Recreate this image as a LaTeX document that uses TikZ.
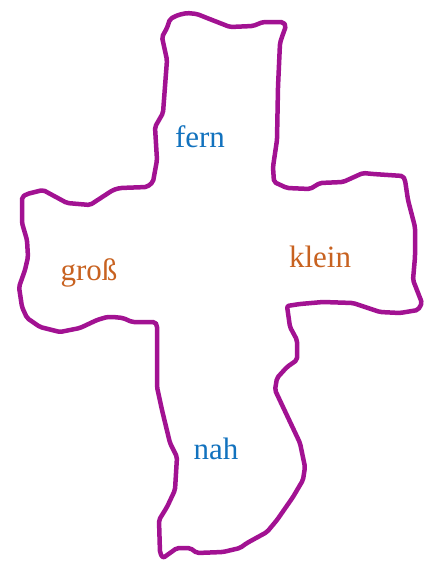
\documentclass[tikz,border=0pt]{standalone}
\usepackage{fontspec}
\setmainfont{Liberation Serif}
\definecolor{outlinepurple}{RGB}{162,18,146}
\definecolor{wordblue}{RGB}{18,114,190}
\definecolor{wordorange}{RGB}{200,98,32}
\tikzset{
  outline/.style={draw=outlinepurple, line width=4.5pt, line join=round, line cap=round, rounded corners=2pt},
  word/.style={anchor=base, font=\fontsize{31}{31}\selectfont, inner sep=0pt}
}
\begin{document}
\begin{tikzpicture}[x=1pt,y=-1pt]
\useasboundingbox (0,0) rectangle (425,563);
\draw[outline] (170,19) -- (178,15) -- (187,13) -- (197,14) -- (207,18) -- (230,27) -- (253,26) -- (263,22) -- (283,22) -- (286,26) -- (283,34) -- (280,43) -- (278,87) -- (277,140) -- (273,167) -- (274,182) -- (287,188) -- (310,189) -- (320,183) -- (343,182) -- (363,173) -- (373,174) -- (403,176) -- (405,180) -- (408,200) -- (415,227) -- (415,257) -- (413,280) -- (422,303) -- (418,310) -- (400,313) -- (380,312) -- (353,303) -- (323,302) -- (300,304) -- (287,306) -- (290,327) -- (297,340) -- (297,360) -- (287,367) -- (277,378) -- (275,390) -- (283,407) -- (300,443) -- (305,467) -- (303,480) -- (293,497) -- (277,520) -- (267,532) -- (247,543) -- (240,548) -- (223,552) -- (197,553) -- (190,548) -- (177,548) -- (163,558) -- (160,553) -- (159,520) -- (167,507) -- (175,490) -- (177,457) -- (170,443) -- (162,410) -- (157,387) -- (157,325) -- (155,322) -- (132,322) -- (123,318) -- (113,317) -- (107,317) -- (97,320) -- (80,328) -- (60,332) -- (40,327) -- (27,318) -- (22,307) -- (19,287) -- (25,270) -- (28,257) -- (27,240) -- (22,223) -- (22,197) -- (27,194) -- (43,190) -- (67,203) -- (90,205) -- (113,190) -- (120,188) -- (147,187) -- (153,182) -- (157,160) -- (155,127) -- (163,113) -- (167,60) -- (162,37) -- (167,28) -- cycle;
\node[word, text=wordblue] (fern) at (200,147) {fern};
\node[word, text=wordorange] (gross) at (89,280) {groß};
\node[word, text=wordorange] (klein) at (320,267) {klein};
\node[word, text=wordblue] (nah) at (216,459) {nah};
\end{tikzpicture}
\end{document}
